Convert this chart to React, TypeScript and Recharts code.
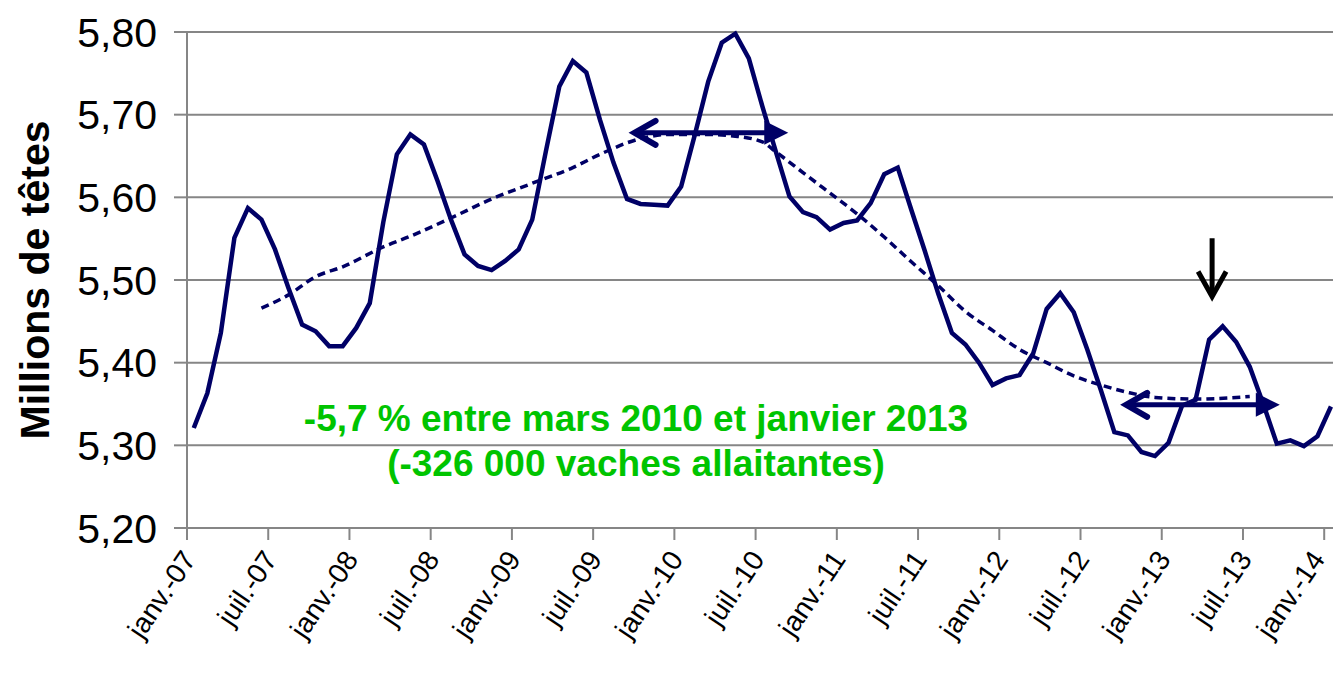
import React from "react";
import { LineChart, Line, XAxis, YAxis, CartesianGrid, ReferenceLine } from "recharts";

// cheptel de vaches allaitantes, millions de têtes, janv.-07 .. janv.-14 (mensuel)
const cowValues = [
  5.321, 5.363, 5.436, 5.551, 5.587, 5.573, 5.537, 5.49, 5.446, 5.438, 5.42, 5.42,
  5.442, 5.472, 5.57, 5.652, 5.676, 5.664, 5.62, 5.573, 5.531, 5.517, 5.512, 5.523,
  5.537, 5.573, 5.655, 5.734, 5.765, 5.751, 5.694, 5.642, 5.598, 5.592, 5.591, 5.59,
  5.613, 5.675, 5.74, 5.787, 5.798, 5.768, 5.71, 5.655, 5.601, 5.582, 5.576, 5.561,
  5.569, 5.572, 5.593, 5.628, 5.636, 5.585, 5.535, 5.483, 5.436, 5.422, 5.4, 5.373,
  5.381, 5.385, 5.411, 5.465, 5.484, 5.461, 5.416, 5.367, 5.316, 5.312, 5.292, 5.287,
  5.303, 5.348, 5.355, 5.428, 5.444, 5.425, 5.395, 5.35, 5.302, 5.306, 5.299, 5.311,
  5.347,
];

// moyenne mobile (pointillés)
const trendMonths = [5, 7, 9, 11, 14, 16, 19, 22, 25, 28, 30, 33, 35, 38, 40, 42, 43, 45, 47, 49, 51, 53, 55, 57, 59, 61, 63, 65, 67, 69, 71, 74, 78];
const trendValues = [
  5.466, 5.482, 5.504, 5.516, 5.54, 5.553, 5.575, 5.598, 5.617, 5.636, 5.652, 5.671,
  5.676, 5.676, 5.674, 5.667, 5.655, 5.63, 5.605, 5.58, 5.552, 5.522, 5.493, 5.462,
  5.439, 5.416, 5.4, 5.384, 5.373, 5.364, 5.358, 5.356, 5.359,
];

const yTicks = [5.2, 5.3, 5.4, 5.5, 5.6, 5.7, 5.8];
const xTicks = [0, 6, 12, 18, 24, 30, 36, 42, 48, 54, 60, 66, 72, 78, 84];
const tickLabels = [
  "janv.-07", "juil.-07", "janv.-08", "juil.-08", "janv.-09", "juil.-09", "janv.-10", "juil.-10",
  "janv.-11", "juil.-11", "janv.-12", "juil.-12", "janv.-13", "juil.-13", "janv.-14",
];

const NAVY = "#000066";
const GRID = "#868686";
const FONT = "'Liberation Sans', Arial, sans-serif";

const rows = cowValues.map((v, i) => {
  const t = trendMonths.indexOf(i);
  return { x: i + 0.5, cows: v, trend: t >= 0 ? trendValues[t] : null };
});

const XTick = (props: any) => {
  const { x, y, payload } = props;
  const label = tickLabels[xTicks.indexOf(payload.value)];
  // keep the last label inside the picture
  const ax = Math.min(x + 2, 1318);
  const ay = y + 12;
  return (
    <text
      x={ax}
      y={ay}
      transform={`rotate(-56, ${ax}, ${ay})`}
      textAnchor="end"
      dominantBaseline="central"
      fontSize={28}
      fontFamily={FONT}
      fill="#000"
    >
      {label}
    </text>
  );
};

const DoubleArrow = (props: any) => {
  const { x1, y1, x2 } = props;
  const y = y1;
  return (
    <g>
      <line x1={x1 + 4} y1={y} x2={x2 - 16} y2={y} stroke={NAVY} strokeWidth={5} />
      <polyline
        points={`${x1 + 24},${y - 12} ${x1 + 3},${y} ${x1 + 24},${y + 12}`}
        fill="none"
        stroke={NAVY}
        strokeWidth={6}
        strokeLinecap="round"
      />
      <polygon points={`${x2 - 24},${y - 12} ${x2},${y} ${x2 - 24},${y + 12}`} fill={NAVY} />
    </g>
  );
};

const DownArrow = (props: any) => {
  const { x1, y1, y2 } = props;
  return (
    <g>
      <line x1={x1} y1={y1} x2={x1} y2={y2 - 3} stroke="#000" strokeWidth={5} />
      <polyline
        points={`${x1 - 14},${y2 - 25} ${x1},${y2} ${x1 + 14},${y2 - 25}`}
        fill="none"
        stroke="#000"
        strokeWidth={5}
      />
    </g>
  );
};

export default function App() {
  return (
    <div style={{ position: "absolute", left: 0, top: 0, width: 1333, height: 691, background: "#fff" }}>
      <LineChart width={1333} height={691} data={rows} margin={{ top: 32, right: 0, left: 0, bottom: 33 }}>
        <CartesianGrid vertical={false} stroke={GRID} strokeWidth={2} />
        <XAxis
          type="number"
          dataKey="x"
          domain={[0, 84.65]}
          ticks={xTicks}
          interval={0}
          height={130}
          tickSize={12}
          axisLine={{ stroke: GRID, strokeWidth: 2 }}
          tickLine={{ stroke: GRID, strokeWidth: 2 }}
          tick={<XTick />}
        />
        <YAxis
          type="number"
          domain={[5.2, 5.8]}
          ticks={yTicks}
          interval={0}
          width={187}
          tickSize={13}
          tickMargin={17}
          tickFormatter={(v: number) => v.toFixed(2).replace(".", ",")}
          axisLine={{ stroke: GRID, strokeWidth: 2 }}
          tickLine={{ stroke: GRID, strokeWidth: 2 }}
          tick={{ fontSize: 41, fill: "#000", fontFamily: FONT }}
          label={{
            value: "Millions de têtes",
            angle: -90,
            position: "insideLeft",
            offset: 34,
            style: { fontSize: 41, fontWeight: "bold", fill: "#000", fontFamily: FONT, textAnchor: "middle" },
          }}
        />
        <Line
          type="monotone"
          dataKey="trend"
          stroke={NAVY}
          strokeWidth={3.5}
          strokeDasharray="8 5"
          dot={false}
          connectNulls
          isAnimationActive={false}
        />
        <Line type="linear" dataKey="cows" stroke={NAVY} strokeWidth={4.5} dot={false} isAnimationActive={false} />
        <ReferenceLine segment={[{ x: 32.84, y: 5.678 }, { x: 44.41, y: 5.678 }]} shape={<DoubleArrow />} ifOverflow="visible" />
        <ReferenceLine segment={[{ x: 69.15, y: 5.349 }, { x: 80.72, y: 5.349 }]} shape={<DoubleArrow />} ifOverflow="visible" />
        <ReferenceLine segment={[{ x: 75.72, y: 5.5505 }, { x: 75.72, y: 5.48 }]} shape={<DownArrow />} ifOverflow="visible" />
      </LineChart>
      <svg width={1333} height={691} style={{ position: "absolute", left: 0, top: 0, pointerEvents: "none" }}>
        <text x={636} y={431} textAnchor="middle" fontSize={37} fontWeight="bold" fontFamily={FONT} fill="#00c400">
          -5,7 % entre mars 2010 et janvier 2013
        </text>
        <text x={636} y={476} textAnchor="middle" fontSize={37} fontWeight="bold" fontFamily={FONT} fill="#00c400">
          (-326 000 vaches allaitantes)
        </text>
      </svg>
    </div>
  );
}
